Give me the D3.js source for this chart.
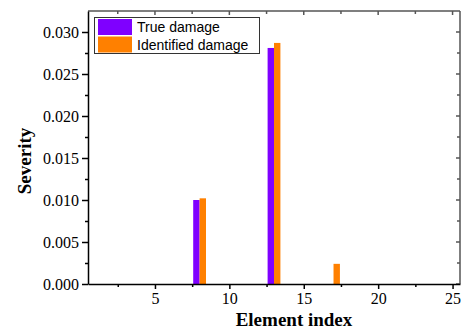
<!DOCTYPE html>
<html>
<head>
<meta charset="utf-8">
<script src="https://cdn.jsdelivr.net/npm/d3@7"></script>
<style>
  body { margin: 0; background: #fff; }
  svg { display: block; }
</style>
</head>
<body>
<div id="chart"></div>
<script>
// Damage data
const elements = [8, 13, 17];
const trueDamage = [0.0100, 0.0281, 0];
const identifiedDamage = [0.0102, 0.0287, 0.0024];
const seriesNames = ['True damage', 'Identified damage'];
const seriesColors = ['#7f00ff', '#ff8000'];
const xTicks = [5, 10, 15, 20, 25];
const yTicks = [0, 0.005, 0.010, 0.015, 0.020, 0.025, 0.030];

const W = 461, H = 329;
const m = { left: 88, right: 1, top: 11, bottom: 45 };
const serif = '"Liberation Serif", "Times New Roman", serif';

const svg = d3.select('#chart').append('svg')
    .attr('width', W).attr('height', H);

const x = d3.scaleLinear().domain([0.5, 25.5]).range([m.left, W - m.right]);
const y = d3.scaleLinear().domain([0, 0.0325]).range([H - m.bottom, m.top]);

const barW = 0.43;

// bars
const g = svg.append('g');
elements.forEach((e, i) => {
    if (trueDamage[i] > 0) {
        g.append('rect')
            .attr('x', x(e - barW)).attr('width', x(e) - x(e - barW))
            .attr('y', y(trueDamage[i])).attr('height', y(0) - y(trueDamage[i]))
            .attr('fill', seriesColors[0]);
    }
    if (identifiedDamage[i] > 0) {
        g.append('rect')
            .attr('x', x(e)).attr('width', x(e + barW) - x(e))
            .attr('y', y(identifiedDamage[i])).attr('height', y(0) - y(identifiedDamage[i]))
            .attr('fill', seriesColors[1]);
    }
});

// minor tick values
const xMinor = d3.range(2.5, 25.1, 5);
const yMinor = d3.range(0.0025, 0.0325, 0.005);

// top + right frame (gray, inward ticks)
const frame = svg.append('g').attr('stroke', '#555').attr('stroke-width', 1.5);
frame.append('line').attr('x1', x(0.5)).attr('x2', x(25.5)).attr('y1', y(0.0325)).attr('y2', y(0.0325));
frame.append('line').attr('x1', x(25.5)).attr('x2', x(25.5)).attr('y1', y(0.0325)).attr('y2', y(0));
xTicks.concat(xMinor).forEach(v => {
    frame.append('line').attr('x1', x(v)).attr('x2', x(v))
        .attr('y1', y(0.0325)).attr('y2', y(0.0325) + (xTicks.includes(v) ? 4 : 3));
});
yTicks.concat(yMinor).forEach(v => {
    frame.append('line').attr('y1', y(v)).attr('y2', y(v))
        .attr('x1', x(25.5)).attr('x2', x(25.5) - (yTicks.includes(v) ? 4 : 3));
});

// bottom axis
svg.append('g')
    .attr('transform', `translate(0,${y(0)})`)
    .call(d3.axisBottom(x).tickValues(xTicks).tickSize(5).tickPadding(4).tickSizeOuter(0));
svg.append('g')
    .attr('transform', `translate(0,${y(0)})`)
    .call(d3.axisBottom(x).tickValues(xMinor).tickSize(3).tickFormat('').tickSizeOuter(0))
    .select('.domain').remove();

// left axis
svg.append('g')
    .attr('transform', `translate(${m.left},0)`)
    .call(d3.axisLeft(y).tickValues(yTicks).tickFormat(d3.format('.3f')).tickSize(6).tickPadding(3).tickSizeOuter(0));
svg.append('g')
    .attr('transform', `translate(${m.left},0)`)
    .call(d3.axisLeft(y).tickValues(yMinor).tickSize(3).tickFormat('').tickSizeOuter(0))
    .select('.domain').remove();

svg.selectAll('.domain, .tick line').attr('stroke', '#000').attr('stroke-width', 1.5);
svg.selectAll('.tick text')
    .attr('fill', '#000')
    .attr('font-family', serif)
    .attr('font-size', 16);

// axis titles
svg.append('text')
    .attr('x', 294).attr('y', 326)
    .attr('text-anchor', 'middle')
    .attr('font-family', serif)
    .attr('font-size', 19).attr('font-weight', 'bold')
    .text('Element index');

svg.append('text')
    .attr('transform', 'translate(31,161) rotate(-90)')
    .attr('text-anchor', 'middle')
    .attr('font-family', serif)
    .attr('font-size', 19).attr('font-weight', 'bold')
    .text('Severity');

// legend
const legend = svg.append('g');
legend.append('rect')
    .attr('x', 94.5).attr('y', 17.5).attr('width', 165).attr('height', 36)
    .attr('fill', '#fff').attr('stroke', '#333').attr('stroke-width', 1);
seriesNames.forEach((name, i) => {
    legend.append('rect')
        .attr('x', 98).attr('y', 19 + i * 17.5).attr('width', 34).attr('height', 16)
        .attr('fill', seriesColors[i]);
    legend.append('text')
        .attr('x', 137).attr('y', 32 + i * 17.5)
        .attr('font-family', '"Liberation Sans", Arial, sans-serif')
        .attr('font-size', 14)
        .text(name);
});
</script>
</body>
</html>
